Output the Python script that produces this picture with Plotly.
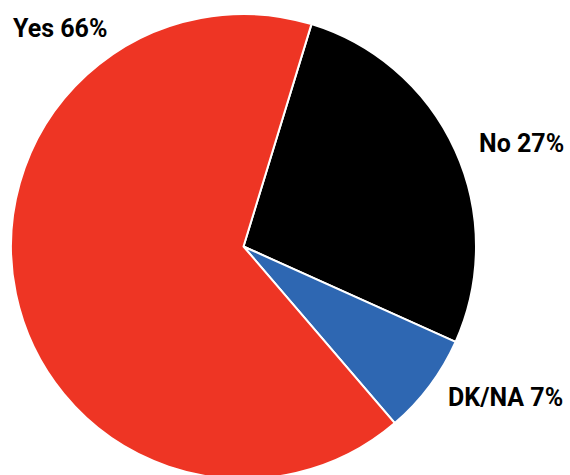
import plotly.graph_objects as go

labels = ["No", "DK/NA", "Yes"]
values = [27, 7, 66]
colors = ["#000000", "#2E67B2", "#EE3524"]

W, H = 570, 490
ML, MR, MT, MB = 11, 94, 14, 11
PW, PH = W - ML - MR, H - MT - MB

def px(x):
    return (x - ML) / PW

def py(y):
    return (H - MB - y) / PH

fig = go.Figure(go.Pie(
    labels=labels, values=values, sort=False, direction="clockwise",
    rotation=17, textinfo="none", hoverinfo="label+percent",
    marker=dict(colors=colors, line=dict(color="white", width=2)),
    showlegend=False,
))

lab = {l: f"{l} {v}%" for l, v in zip(labels, values)}
font = dict(family="Roboto, Arial, sans-serif", size=25, color="#000000")
fig.add_annotation(text=f"<b>{lab['Yes']}</b>", x=px(11), y=py(28), xanchor="left", yanchor="middle",
                   xref="paper", yref="paper", showarrow=False, font=font)
fig.add_annotation(text=f"<b>{lab['No']}</b>", x=px(566), y=py(143), xanchor="right", yanchor="middle",
                   xref="paper", yref="paper", showarrow=False, font=font)
fig.add_annotation(text=f"<b>{lab['DK/NA']}</b>", x=px(446), y=py(397), xanchor="left", yanchor="middle",
                   xref="paper", yref="paper", showarrow=False, font=font)

fig.update_layout(width=W, height=H, margin=dict(l=ML, r=MR, t=MT, b=MB),
                  paper_bgcolor="white", plot_bgcolor="white")

fig.write_html("out.html", config={"displayModeBar": False}, post_script=(
    "document.body.style.margin='0';"
    "document.body.style.overflow='hidden';"
    "document.documentElement.style.overflow='hidden';"
))
